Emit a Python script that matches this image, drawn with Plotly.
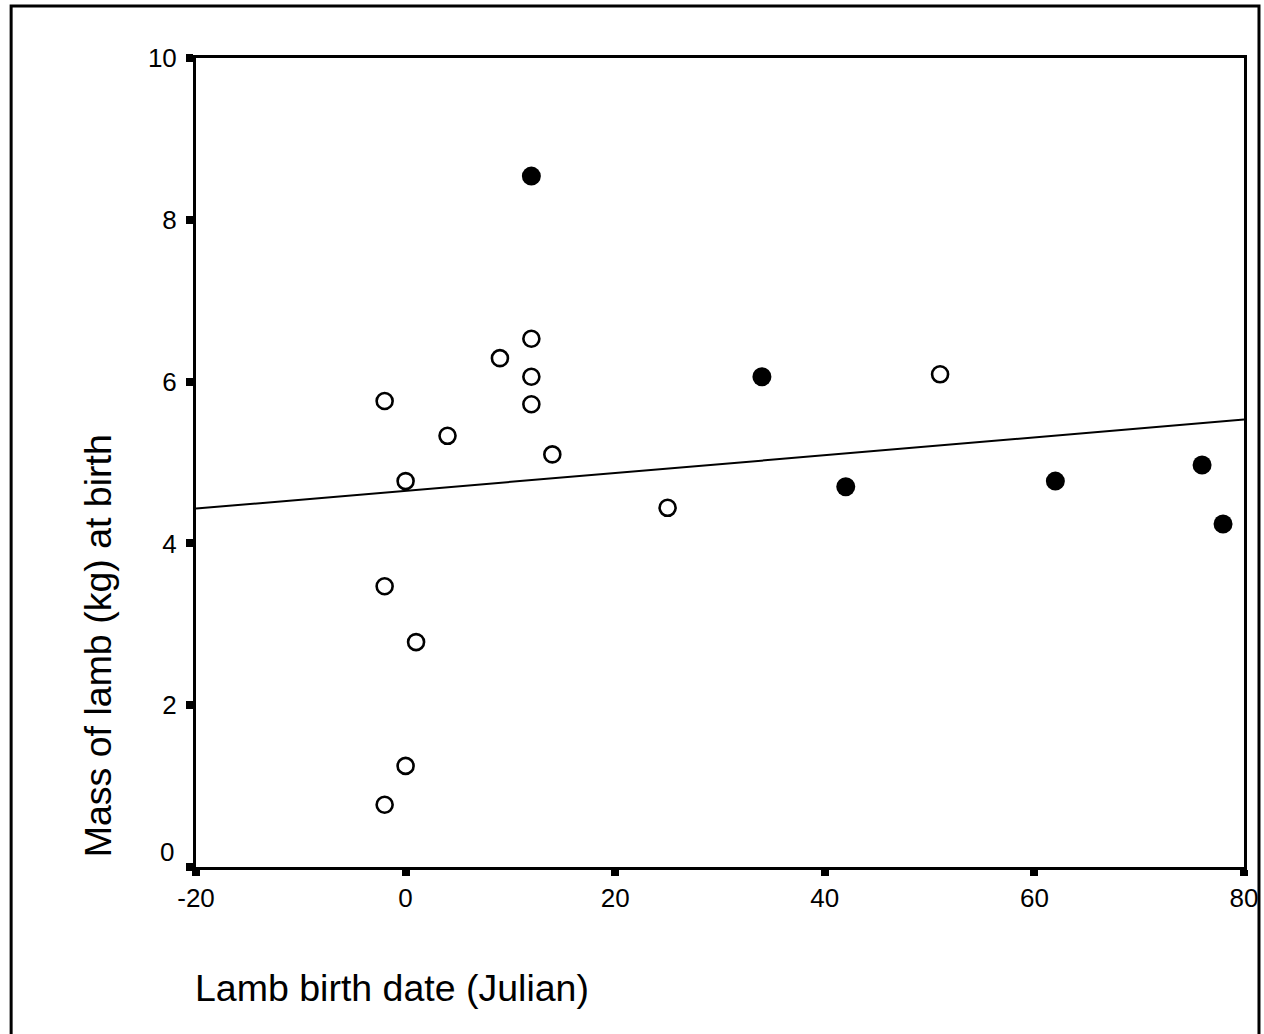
import plotly.graph_objects as go

# Open circles
open_x = [-2, 4, 0, 9, 12, 12, 12, 14, 25, 51, -2, 1, 0, -2]
open_y = [5.76, 5.33, 4.77, 6.29, 6.53, 6.06, 5.72, 5.10, 4.44, 6.09, 3.47, 2.78, 1.25, 0.77]

# Filled circles
filled_x = [12, 34, 42, 62, 76, 78]
filled_y = [8.54, 6.06, 4.70, 4.77, 4.97, 4.24]

# Regression line endpoints
fit_x = [-20, 80]
fit_y = [4.43, 5.53]

x_ticks = [-20, 0, 20, 40, 60, 80]
y_ticks = [0, 2, 4, 6, 8, 10]

FONT = "Liberation Sans, Arial, Helvetica, sans-serif"

fig = go.Figure()
fig.add_trace(go.Scatter(x=fit_x, y=fit_y, mode="lines",
                         line=dict(color="black", width=2), showlegend=False))
fig.add_trace(go.Scatter(x=open_x, y=open_y, mode="markers",
                         marker=dict(symbol="circle-open", size=16, color="black",
                                     line=dict(width=2.6, color="black")),
                         showlegend=False))
fig.add_trace(go.Scatter(x=filled_x, y=filled_y, mode="markers",
                         marker=dict(symbol="circle", size=19, color="black",
                                     line=dict(width=0)),
                         showlegend=False))

fig.update_layout(
    width=1264, height=1034,
    margin=dict(l=196, r=20, t=58, b=167, pad=0, autoexpand=False),
    paper_bgcolor="white", plot_bgcolor="white",
    font=dict(family=FONT, color="black", size=26),
    showlegend=False,
)
fig.update_xaxes(range=[-20, 80], tickvals=x_ticks, ticktext=[str(v) for v in x_ticks],
                 showgrid=False, zeroline=False, showline=True, linecolor="black",
                 linewidth=3, mirror=True, ticks="outside", ticklen=6, tickwidth=8,
                 tickcolor="black", tickfont=dict(size=26, family=FONT), ticklabelstandoff=0,
                 automargin=False, ticklabeloverflow="allow")
fig.update_yaxes(range=[0, 10], tickvals=y_ticks,
                 ticktext=["" if v == 0 else str(v) for v in y_ticks],
                 showgrid=False, zeroline=False, showline=True, linecolor="black",
                 linewidth=3, mirror=True, ticks="outside", ticklen=7, tickwidth=8,
                 tickcolor="black", tickfont=dict(size=26, family=FONT), ticklabelstandoff=4,
                 automargin=False)

fig.add_annotation(x=0, xref="paper", y=0, yref="y", text="0", showarrow=False,
                   xanchor="right", yanchor="middle", xshift=-20, yshift=15,
                   font=dict(size=26, family=FONT))
fig.add_annotation(x=0.0, xref="paper", y=-0.1496, yref="paper",
                   text="Lamb birth date (Julian)", showarrow=False, xshift=-3,
                   xanchor="left", yanchor="middle", font=dict(size=37.5, family=FONT))
fig.add_annotation(x=-0.0934, xref="paper", y=0.273, yref="paper",
                   text="Mass of lamb (kg) at birth", showarrow=False, textangle=-90,
                   xanchor="center", yanchor="middle", font=dict(size=37.5, family=FONT))

fig.add_shape(type="rect", xref="paper", yref="paper",
              x0=-0.1764, x1=1.0143, y0=-0.25, y1=1.0643,
              line=dict(color="black", width=3), fillcolor="rgba(0,0,0,0)", layer="below")

fig.write_html("out.html")
